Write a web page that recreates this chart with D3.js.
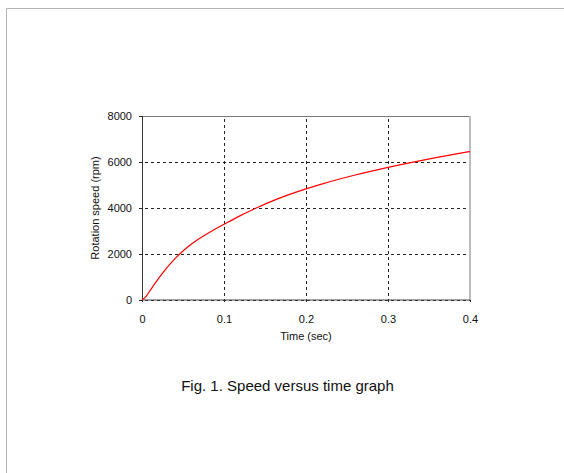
<!DOCTYPE html>
<html>
<head>
<meta charset="utf-8">
<script src="https://cdn.jsdelivr.net/npm/d3@7"></script>
<style>
  body { margin: 0; background: #fff; }
  text { font-family: "Liberation Sans", Arial, sans-serif; fill: #111; }
  .tick text { font-size: 11px; }
  .axis-label { font-size: 11px; }
  .caption { font-size: 15px; }
</style>
</head>
<body>
<svg width="564" height="473"></svg>
<script>
  // DATA
  const timeSec = [0, 0.005, 0.01, 0.02, 0.03, 0.04, 0.05, 0.06, 0.07, 0.08, 0.09, 0.10,
    0.12, 0.14, 0.16, 0.18, 0.20, 0.22, 0.24, 0.26, 0.28, 0.30, 0.32, 0.34, 0.36, 0.38, 0.40];
  const speedRpm = [0, 160, 420, 930, 1390, 1790, 2130, 2420, 2670, 2890, 3095, 3290,
    3670, 4010, 4320, 4590, 4830, 5050, 5250, 5435, 5605, 5765, 5915, 6060, 6200, 6330, 6455];
  const xTicks = [0, 0.1, 0.2, 0.3, 0.4];
  const yTicks = [0, 2000, 4000, 6000, 8000];
  const xLabel = "Time (sec)";
  const yLabel = "Rotation speed (rpm)";
  const caption = "Fig. 1. Speed versus time graph";

  const data = timeSec.map((t, i) => ({ t: t, v: speedRpm[i] }));

  // SVG PARAMETERS
  const svg = d3.select("svg");
  const width = +svg.attr("width");
  const height = +svg.attr("height");

  // page frame (grey border top/left)
  svg.append("path")
    .attr("d", `M6.5,${height} V8.5 H${width}`)
    .attr("fill", "none")
    .attr("stroke", "#b4b4b4")
    .attr("stroke-width", 1);

  const margin = { top: 116, left: 142 };
  const innerWidth = 328;
  const innerHeight = 184;

  const xScale = d3.scaleLinear().domain([0, 0.4]).range([0, innerWidth]);
  const yScale = d3.scaleLinear().domain([0, 8000]).range([innerHeight, 0]);

  const g = svg.append("g")
    .attr("transform", `translate(${margin.left},${margin.top})`);

  // Y AXIS + horizontal grid
  const yAxisG = g.append("g")
    .attr("transform", "translate(-3,0)")
    .call(d3.axisLeft(yScale).tickValues(yTicks).tickFormat(d3.format("d"))
      .tickSize(-(innerWidth + 3)).tickPadding(7));
  yAxisG.select(".domain").remove();
  yAxisG.selectAll(".tick line")
    .attr("stroke", "#222")
    .attr("stroke-dasharray", "3,3");
  yAxisG.selectAll(".tick text").attr("fill", "#111");

  // X AXIS + vertical grid
  const xAxisG = g.append("g")
    .attr("transform", `translate(0,${innerHeight + 2})`)
    .call(d3.axisBottom(xScale).tickValues(xTicks).tickFormat(d3.format("~g"))
      .tickSize(-(innerHeight + 2)));
  xAxisG.select(".domain").remove();
  xAxisG.selectAll(".tick line")
    .attr("stroke", "#222")
    .attr("stroke-dasharray", "3,3");
  xAxisG.selectAll(".tick text").attr("fill", "#111").attr("y", 13).attr("dy", "0.71em");

  // FRAME
  g.append("line").attr("x1", 0).attr("x2", innerWidth).attr("y1", 0.5).attr("y2", 0.5)
    .attr("stroke", "#777");
  g.append("line").attr("x1", innerWidth).attr("x2", innerWidth).attr("y1", 0).attr("y2", innerHeight)
    .attr("stroke", "#bdbdbd").attr("stroke-width", 2);
  g.append("line").attr("x1", 0.5).attr("x2", 0.5).attr("y1", 0).attr("y2", innerHeight)
    .attr("stroke", "#333");
  g.append("line").attr("x1", 0).attr("x2", innerWidth).attr("y1", innerHeight).attr("y2", innerHeight)
    .attr("stroke", "#444");

  // CURVE
  const line = d3.line()
    .x((d) => xScale(d.t))
    .y((d) => yScale(d.v))
    .curve(d3.curveMonotoneX);
  g.append("path")
    .datum(data)
    .attr("fill", "none")
    .attr("stroke", "#ff0000")
    .attr("stroke-width", 1.2)
    .attr("d", line);

  // AXIS LABELS
  g.append("text")
    .attr("class", "axis-label")
    .attr("x", innerWidth / 2)
    .attr("y", innerHeight + 40)
    .attr("text-anchor", "middle")
    .text(xLabel);
  g.append("text")
    .attr("class", "axis-label")
    .attr("transform", "rotate(-90)")
    .attr("x", -innerHeight / 2)
    .attr("y", -43)
    .attr("text-anchor", "middle")
    .text(yLabel);

  // CAPTION
  svg.append("text")
    .attr("class", "caption")
    .attr("x", 287.5)
    .attr("y", 390.5)
    .attr("text-anchor", "middle")
    .text(caption);
</script>
</body>
</html>
